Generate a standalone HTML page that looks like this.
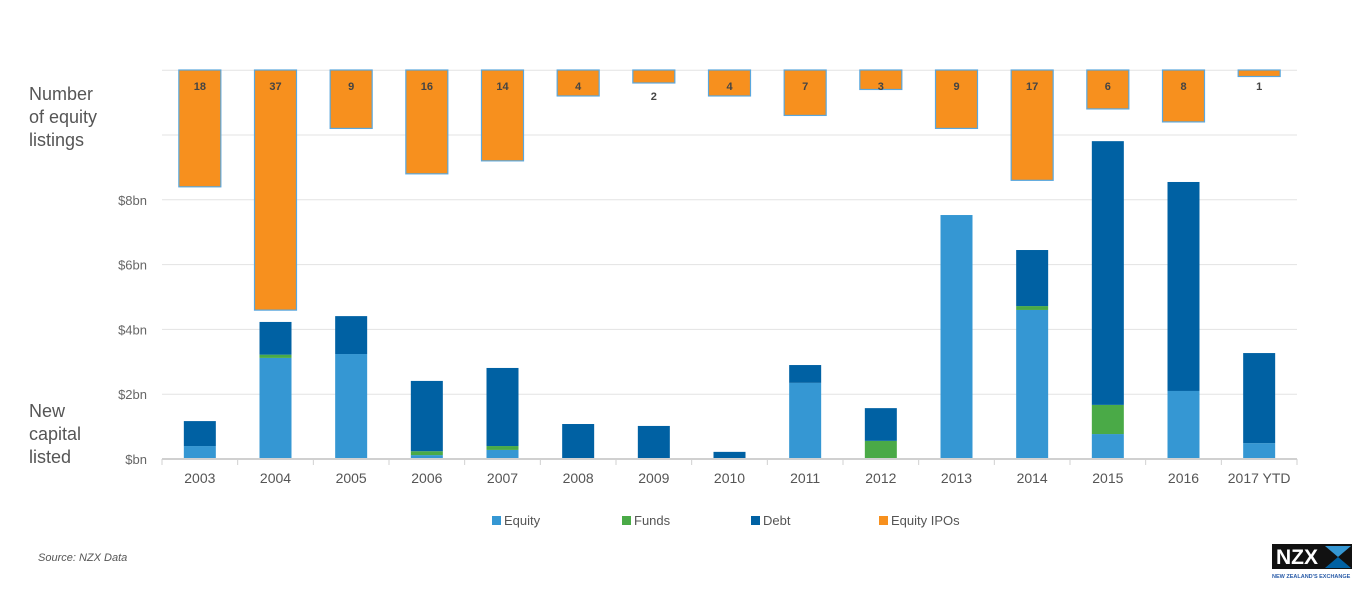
<!DOCTYPE html>
<html><head><meta charset="utf-8"><style>
body{margin:0;background:#fff;font-family:"Liberation Sans",sans-serif;}
svg text{font-family:"Liberation Sans",sans-serif;}
</style></head><body>
<svg id="c" width="1360" height="584">
<text x="29" y="100" font-size="18" fill="#555"><tspan x="29" y="100">Number</tspan><tspan x="29" y="123">of equity</tspan><tspan x="29" y="146">listings</tspan></text>
<text x="29" y="417" font-size="18" fill="#555"><tspan x="29" y="417">New</tspan><tspan x="29" y="440">capital</tspan><tspan x="29" y="463">listed</tspan></text>
<g id="grid"></g><g id="bars"></g><g id="ipo"></g><g id="axis"></g>
<g>
<rect x="492" y="516" width="9" height="9" fill="#3597d3"/><text x="504" y="525" font-size="13" fill="#555">Equity</text>
<rect x="622" y="516" width="9" height="9" fill="#4aaa47"/><text x="634" y="525" font-size="13" fill="#555">Funds</text>
<rect x="751" y="516" width="9" height="9" fill="#0061a3"/><text x="763" y="525" font-size="13" fill="#555">Debt</text>
<rect x="879" y="516" width="9" height="9" fill="#f7901e"/><text x="891" y="525" font-size="13" fill="#555">Equity IPOs</text>
</g>
<text x="38" y="561" font-size="11" font-style="italic" fill="#555">Source: NZX Data</text>
<g>
<rect x="1272" y="544" width="80" height="25" fill="#111"/>
<text x="1276" y="564" font-size="21" font-weight="bold" fill="#fff">NZX</text>
<polygon points="1325,546 1351,546 1338,557" fill="#3597d3"/>
<polygon points="1325,568 1351,568 1338,557" fill="#0061a3"/>
<text x="1272" y="578" font-size="5.5" font-weight="bold" fill="#2a5ca8">NEW ZEALAND'S EXCHANGE</text>
</g>
</svg>
<script>
const categories=["2003","2004","2005","2006","2007","2008","2009","2010","2011","2012","2013","2014","2015","2016","2017 YTD"];
const equity=[0.4,3.12,3.24,0.12,0.28,0,0,0,2.35,0,7.53,4.6,0.77,2.1,0.49];
const funds=[0,0.1,0,0.12,0.12,0,0,0,0,0.56,0,0.12,0.9,0,0];
const debt=[0.77,1.01,1.17,2.17,2.41,1.08,1.02,0.22,0.55,1.01,0,1.73,8.14,6.45,2.78];
const ipos=[18,37,9,16,14,4,2,4,7,3,9,17,6,8,1];
const yTicks=[0,2,4,6,8];
const yTickLabels=["$bn","$2bn","$4bn","$6bn","$8bn"];
const NS="http://www.w3.org/2000/svg";
const x0=162,x1=1297,n=categories.length,bw=(x1-x0)/n;
const xC=i=>x0+bw*(i+0.5);
const yV=v=>459-v*32.4;
const yI=k=>70+k*6.49;
function mk(p,tag,a){const e=document.createElementNS(NS,tag);for(const k in a)e.setAttribute(k,a[k]);document.getElementById(p).appendChild(e);return e;}
[...yTicks,10,12].forEach(v=>{if(v===0)return;const l=mk('grid','line',{x1:x0,x2:x1,y1:yV(v),y2:yV(v),stroke:'#e3e3e3'});

});
yTicks.forEach((v,i)=>{const t=mk('axis','text',{x:147,y:yV(v)+5,'font-size':13,fill:'#666','text-anchor':'end'});t.textContent=yTickLabels[i];

});
const base=mk('axis','line',{x1:x0,x2:x1,y1:459,y2:459,stroke:'#d0d0d0','stroke-width':2});


for(let i=0;i<=n;i++){const tk=mk('axis','line',{x1:x0+bw*i,x2:x0+bw*i,y1:459,y2:465,stroke:'#d0d0d0'});

}
categories.forEach((c,i)=>{
const t=mk('axis','text',{x:xC(i),y:483,'font-size':14,fill:'#555','text-anchor':'middle'});t.textContent=c;


let cum=0;
[[equity,'#3597d3','equity'],[funds,'#4aaa47','funds'],[debt,'#0061a3','debt']].forEach(([arr,col,nm])=>{
const v=arr[i];if(v<=0)return;
const r=mk('bars','rect',{x:xC(i)-16,width:32,y:yV(cum+v),height:v*32.4,fill:col});


cum+=v;});
const o=mk('ipo','rect',{x:xC(i)-21,width:42,y:70,height:yI(ipos[i])-70,fill:'#f7901e',stroke:'#5aa7dd','stroke-width':1.2});


const small=yI(ipos[i])-70<22;
const lt=mk('ipo','text',{x:xC(i),y:small&&ipos[i]===2?100:90,'font-size':11,'font-weight':'bold',fill:'#444','text-anchor':'middle'});lt.textContent=ipos[i];


});
</script>
</body></html>
